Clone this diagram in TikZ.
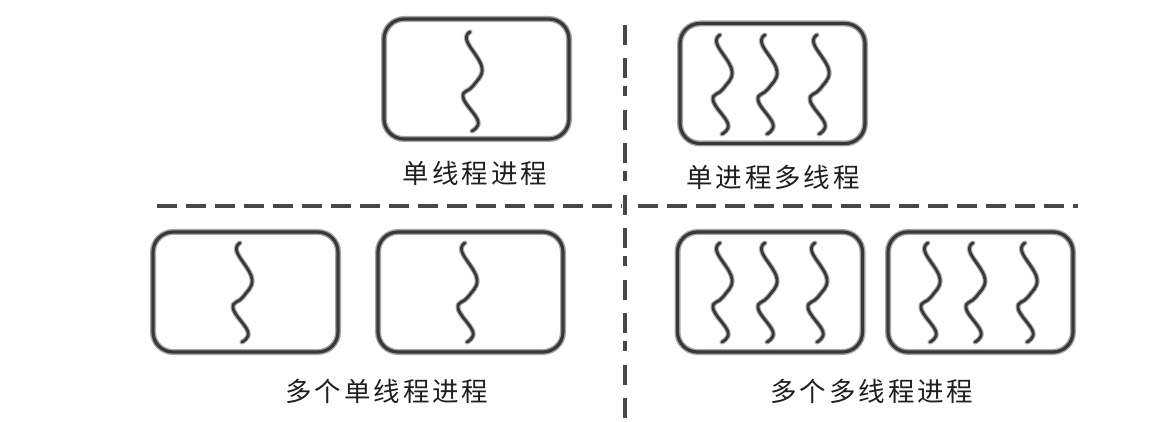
\documentclass[tikz,border=0pt]{standalone}
\usepackage{fontspec}
\newfontfamily\cjk[LetterSpace=11]{Noto Sans CJK SC}
\begin{document}
\begin{tikzpicture}[x=1pt,y=-1pt,
  procbox/.style={draw=black!78, line width=3.2pt, rounded corners=20pt,
     minimum width=185pt, minimum height=120pt, inner sep=0pt,
     preaction={draw=black!35, line width=6pt}},
  threadline/.style={draw=black!78, line width=2.8pt, line cap=round,
     preaction={draw=black!32, line width=5pt, line cap=round}},
  caption/.style={font=\cjk\fontsize{26.5}{30}\selectfont, text=black!88, inner sep=0pt},
  hdiv/.style={draw=black!72, line width=3.8pt, dash pattern=on 20pt off 9pt},
  vdiv/.style={draw=black!72, line width=4pt, dash pattern=on 20pt off 13pt on 20pt off 8pt on 10pt off 14pt},
  thread/.pic={\path[threadline] plot[smooth, tension=0.7] coordinates {(0,0) (-3,9) (12,36) (3,54) (-7,65) (8,89) (2,99)};}
]
\useasboundingbox[fill=white] (0,0) rectangle (1173,422);

% boxes
\node[procbox] (p1) at (476.5,79) {};
\node[procbox] (p2) at (772.5,83.5) {};
\node[procbox] (p3) at (245.5,292) {};
\node[procbox] (p4) at (470.5,292) {};
\node[procbox] (p5) at (770,292) {};
\node[procbox] (p6) at (980.5,292) {};

% threads
\pic at (470,32) {thread};
\pic at (720,35) {thread};
\pic at (765,35) {thread};
\pic at (817,35) {thread};
\pic at (240,243) {thread};
\pic at (465,243) {thread};
\pic at (720,243) {thread};
\pic at (765,243) {thread};
\pic at (815,243) {thread};
\pic at (928,243) {thread};
\pic at (973,243) {thread};
\pic at (1025,243) {thread};

% captions
\node[caption] (c1) at (475,173) {单线程进程};
\node[caption] (c2) at (773,177) {单进程多线程};
\node[caption] (c3) at (387,391) {多个单线程进程};
\node[caption] (c4) at (872,391) {多个多线程进程};

% dividers
\coordinate (hl1) at (157,206);
\coordinate (hl2) at (622,206);
\coordinate (hr1) at (638,206);
\coordinate (hr2) at (1078,206);
\coordinate (vt) at (625,25);
\coordinate (vb) at (625,418);
\draw[hdiv] (hl1) -- (hl2);
\draw[hdiv] (hr1) -- (hr2);
\draw[vdiv] (vt) -- (vb);
\end{tikzpicture}
\end{document}
